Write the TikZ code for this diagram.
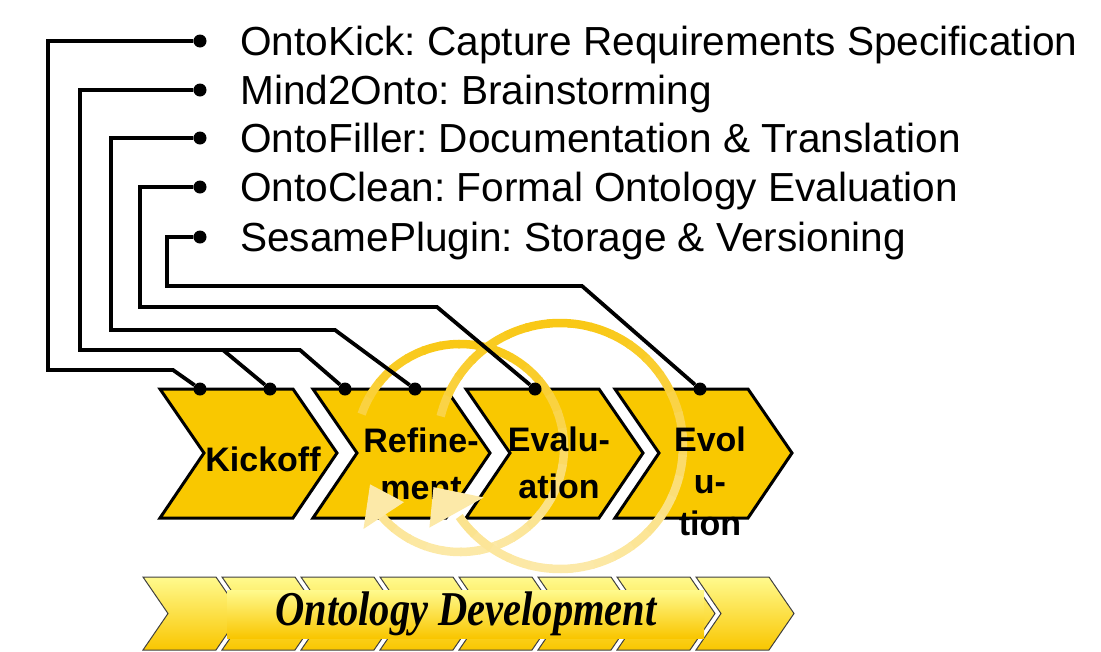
\documentclass[tikz,border=0pt]{standalone}
\usepackage{fontspec}
\setmainfont{Liberation Sans}
\newfontfamily\barfont{Liberation Serif}
\frenchspacing

\begin{document}
\begin{tikzpicture}[
    x=1pt, y=-1pt,
    every node/.style={inner sep=0pt},
    wire/.style={line width=3.8pt, black, line join=miter},
    dot/.style={circle, fill=black, minimum size=13pt},
    stagebox/.style={fill=stagegold, draw=black, line width=3pt, line join=miter},
    stagelabel/.style={font=\fontsize{34}{47}\selectfont\bfseries, align=center},
    toollabel/.style={font=\fontsize{40.6}{49}\selectfont, anchor=base west},
    ring/.style={line width=8.5pt},
    ringtip/.style={fill=ringpale},
    barpiece/.style={draw=black!75, line width=1pt, top color=barlight, bottom color=bargold},
]

\definecolor{stagegold}{HTML}{F9C800}
\definecolor{ringgold}{HTML}{F9C815}
\definecolor{ringpale}{HTML}{FCE9A8}   % the lower half of the cycles and their heads
\definecolor{barlight}{HTML}{FFFA8E}
\definecolor{bargold}{HTML}{F9C600}

\useasboundingbox (0,0) rectangle (1101,651);

% ------------------------------------------------------------ the four stages
\foreach \l in {160, 313, 466, 615} {
    \draw[stagebox] (\l,389) -- ++(133,0) -- ++(44,64) -- ++(-44,65)
        -- ++(-133,0) -- ++(44,-65) -- cycle;
}

% ------------------------------------------------------------ the two cycles
\coordinate (cA) at (460,448);
\coordinate (cB) at (560,446);

% small arcs, gold at the top and pale at the bottom
\foreach \a in {-161,-151,...,129} {
    \pgfmathtruncatemacro{\mix}{50*(1-sin(\a+5))}
    \draw[ring, ringgold!\mix!ringpale] (cA) ++(\a:104) arc (\a:\a+11:104);
}
\foreach \a in {-166,-156,...,136} {
    \pgfmathtruncatemacro{\mix}{50*(1-sin(\a+5))}
    \draw[ring, ringgold!\mix!ringpale] (cB) ++(\a:123) arc (\a:\a+11:123);
}

% ------------------------------------------------------------ stage names
\node[stagelabel] (kickoff) at (263,459.5) {Kickoff};
\node[stagelabel] (refine) at (421,464) {Refine-\\ment};
\node[stagelabel] (evaluate) at (559,463) {Evalu-\\ation};
\node[stagelabel, font=\fontsize{34}{42}\selectfont\bfseries] (evolve)
    at (710,481) {Evol\\u-\\tion};

% heads of the cycles go over the text
\fill[ringtip] ([shift={(136:78)}]cA) -- ([shift={(158:97)}]cA)
    -- ([shift={(140:126)}]cA) -- cycle;
\fill[ringtip] ([shift={(146:92)}]cB) -- ([shift={(162:133)}]cB)
    -- ([shift={(148:154)}]cB) -- cycle;

% ------------------------------------------------------------ tools and their wires
\foreach \y/\n/\txt in {41/d1/{OntoKick: Capture Requirements Specification},
                        90/d2/{Mind2Onto: Brainstorming},
                        138/d3/{OntoFiller: Documentation \& Translation},
                        187/d4/{OntoClean: Formal Ontology Evaluation},
                        237/d5/{SesamePlugin: Storage \& Versioning}} {
    \node[dot] (\n) at (200,\y) {};
    \node[toollabel] (t\n) at (240,\y+14) {\txt};
}

\node[dot] (k1) at (200,389) {};
\node[dot] (k2) at (270,389) {};
\node[dot] (r1) at (345,389) {};
\node[dot] (r2) at (415,389) {};
\node[dot] (e1) at (535,389) {};
\node[dot] (v1) at (700,389) {};

\coordinate (b1) at (173,370);
\coordinate (b2) at (300,350);
\coordinate (b2s) at (223,350);
\coordinate (b3) at (335,330);
\coordinate (b4) at (437,307);
\coordinate (b5) at (582,286);

\foreach \d/\dx/\b/\s in {d1/-152/b1/k1, d2/-120/b2/r1, d3/-89/b3/r2,
                          d4/-60/b4/e1, d5/-33/b5/v1} {
    \draw[wire] (\d) -- ++(\dx,0) |- (\b) -- (\s);
}
\draw[wire] (b2s) -- (k2);   % Mind2Onto also feeds the kickoff

% ------------------------------------------------------------ the bar below
\foreach \i in {0,...,7} {
    \pgfmathsetmacro{\l}{143+79*\i}
    \draw[barpiece] (\l,577) -- ++(73,0) -- ++(25,36.5) -- ++(-25,36.5)
        -- ++(-73,0) -- ++(25,-36.5) -- cycle;
}
\shade[top color=barlight, bottom color=bargold] (227,590) rectangle (704,638);
\node[font=\barfont\bfseries\itshape\fontsize{40.5}{40}\selectfont] (develop)
    at (466,614) {\scalebox{1}[1.2]{Ontology Development}};

\end{tikzpicture}
\end{document}
